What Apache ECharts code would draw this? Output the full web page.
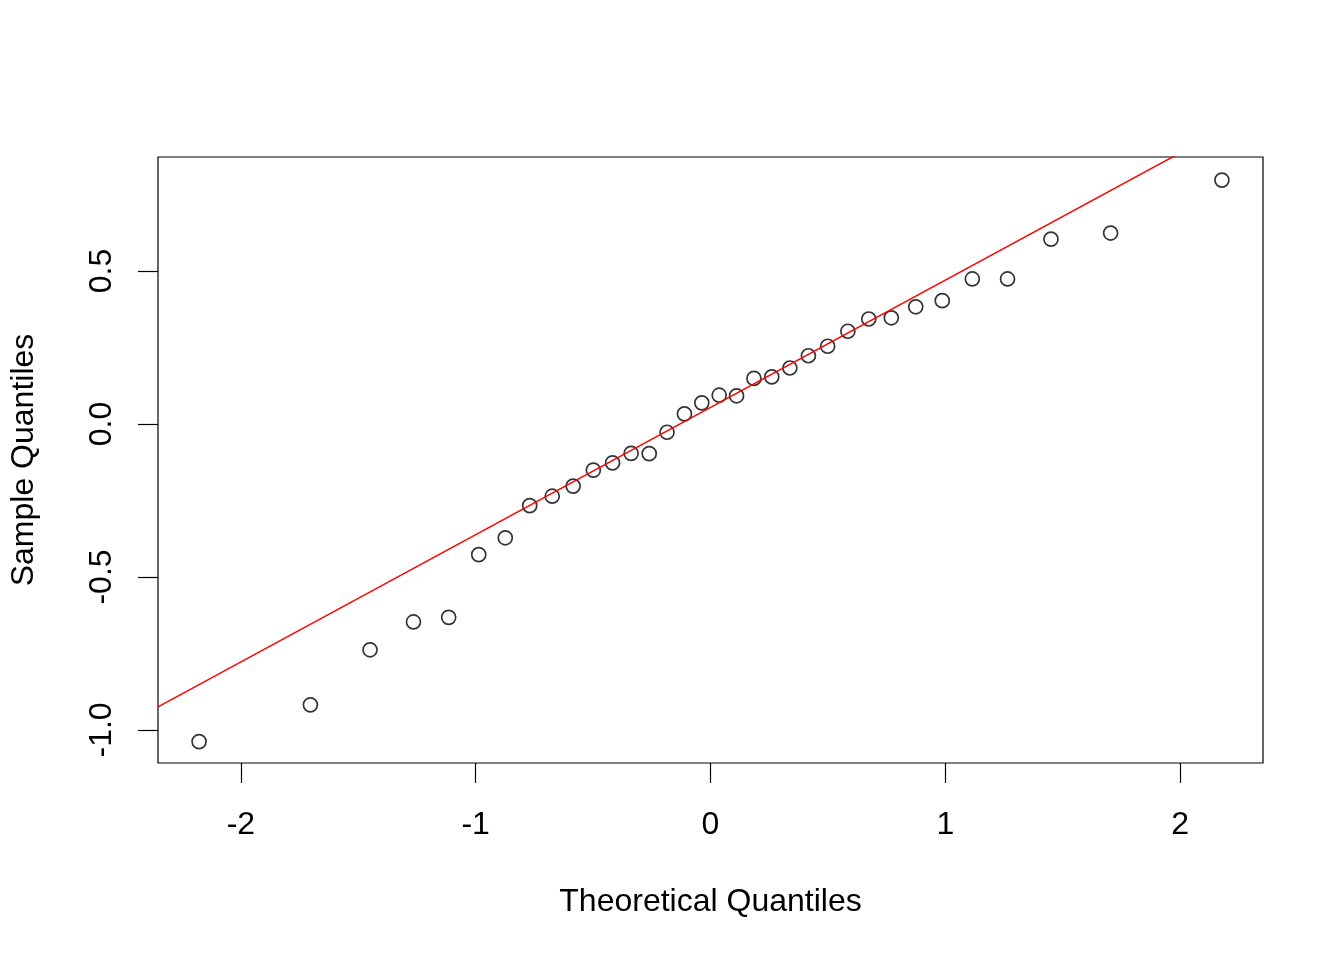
<!DOCTYPE html>
<html>
<head>
<meta charset="utf-8">
<script src="https://cdn.jsdelivr.net/npm/echarts@6/dist/echarts.min.js"></script>
<style>
  html, body { margin: 0; padding: 0; background: #fff; }
  #chart { width: 1344px; height: 960px; }
</style>
</head>
<body>
<div id="chart"></div>
<script>
// normal QQ plot, n = 34
const theoreticalQ = [
  -2.178, -1.704, -1.450, -1.265, -1.115, -0.987, -0.874, -0.770, -0.674,
  -0.585, -0.499, -0.417, -0.338, -0.261, -0.185, -0.111, -0.037,
  0.037, 0.111, 0.185, 0.261, 0.338, 0.417, 0.499, 0.585, 0.674,
  0.770, 0.874, 0.987, 1.115, 1.265, 1.450, 1.704, 2.178
];
const sampleQ = [
  -1.038, -0.918, -0.738, -0.647, -0.632, -0.427, -0.372, -0.267, -0.236,
  -0.203, -0.151, -0.127, -0.096, -0.097, -0.027, 0.033, 0.069,
  0.094, 0.092, 0.149, 0.154, 0.183, 0.223, 0.254, 0.303, 0.343,
  0.347, 0.383, 0.403, 0.474, 0.474, 0.604, 0.624, 0.797
];
const xTicks = [-2, -1, 0, 1, 2];
const yTicks = [-1.0, -0.5, 0.0, 0.5];

// qqline
const lineIntercept = 0.054;
const lineSlope = 0.416;

const xMin = -2.353, xMax = 2.353;
const yMin = -1.108, yMax = 0.8725;

const font = "'Liberation Sans', Arial, Helvetica, sans-serif";

const chart = echarts.init(document.getElementById('chart'));

chart.setOption({
  backgroundColor: '#fff',
  animation: false,
  grid: {
    left: 157, right: 81, top: 157, bottom: 197,
    show: true, borderColor: '#000', borderWidth: 1.2,
    backgroundColor: 'transparent'
  },
  xAxis: {
    type: 'value',
    min: xMin, max: xMax,
    name: 'Theoretical Quantiles',
    nameLocation: 'middle',
    nameGap: 123,
    nameTextStyle: { color: '#000', fontSize: 32, fontFamily: font },
    axisLine: { show: false, onZero: false },
    splitLine: { show: false },
    axisTick: {
      show: true, inside: false, length: 20,
      customValues: xTicks,
      lineStyle: { color: '#000', width: 1.2 }
    },
    axisLabel: {
      customValues: xTicks,
      margin: 46,
      color: '#000', fontSize: 32, fontFamily: font,
      formatter: v => String(v)
    }
  },
  yAxis: {
    type: 'value',
    min: yMin, max: yMax,
    name: 'Sample Quantiles',
    nameLocation: 'middle',
    nameGap: 118,
    nameTextStyle: { color: '#000', fontSize: 32, fontFamily: font },
    axisLine: { show: false, onZero: false },
    splitLine: { show: false },
    axisTick: {
      show: true, inside: false, length: 20,
      customValues: yTicks,
      lineStyle: { color: '#000', width: 1.2 }
    },
    axisLabel: {
      customValues: yTicks,
      rotate: 90,
      margin: 40,
      color: '#000', fontSize: 32, fontFamily: font,
      formatter: v => v.toFixed(1)
    }
  },
  series: [
    {
      type: 'scatter',
      data: theoreticalQ.map((x, i) => [x, sampleQ[i]]),
      symbol: 'circle',
      symbolSize: 14,
      itemStyle: { color: 'rgba(0,0,0,0)', borderColor: '#000', borderWidth: 1.7 },
      emphasis: { disabled: true }
    },
    {
      type: 'line',
      data: [
        [xMin, lineIntercept + lineSlope * xMin],
        [xMax, lineIntercept + lineSlope * xMax]
      ],
      clip: true,
      showSymbol: false,
      symbol: 'none',
      lineStyle: { color: '#ff0000', width: 1.5 },
      emphasis: { disabled: true }
    }
  ]
});
</script>
</body>
</html>
